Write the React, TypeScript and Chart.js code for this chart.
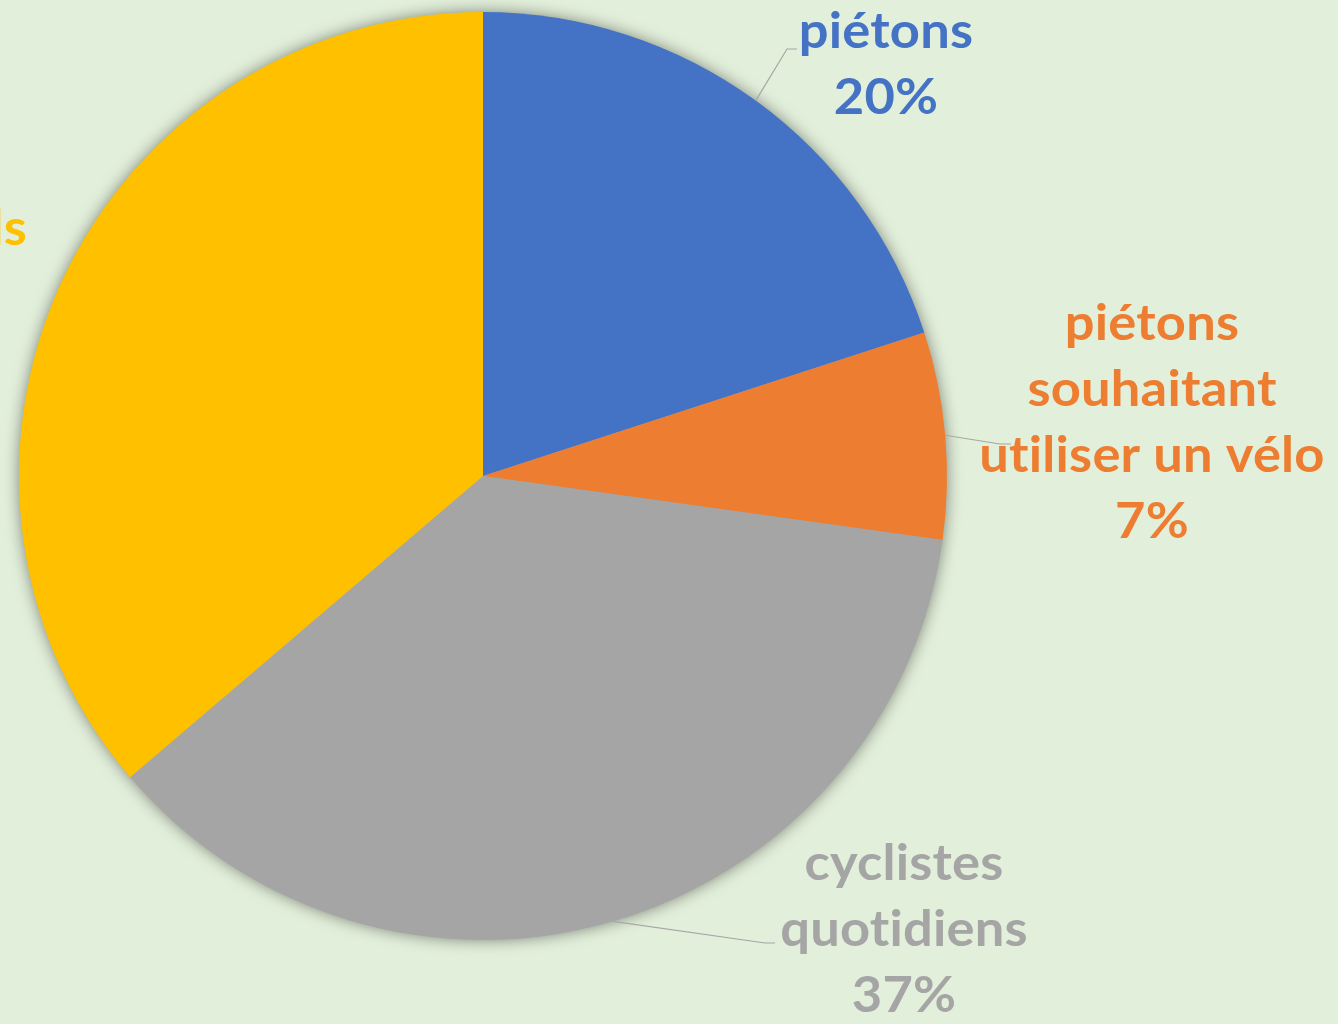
import React, { useEffect, useRef } from "react";
import { Chart, registerables } from "chart.js";

Chart.register(...registerables);

const categories = [
  "piétons",
  "piétons souhaitant utiliser un vélo",
  "cyclistes quotidiens",
  "cyclistes occasionnels",
];
const labelLines = [
  ["piétons"],
  ["piétons", "souhaitant", "utiliser un vélo"],
  ["cyclistes", "quotidiens"],
  ["cyclistes", "occasionnels"],
];
const values = [20.0, 7.2, 36.55, 36.25];
const colors = ["#4472C4", "#ED7D31", "#A5A5A5", "#FFC000"];

const BG = "#E2EFDA";
const FONT_SIZE = 49;
const FONT = `bold ${FONT_SIZE}px Lato, "Open Sans", sans-serif`;
const LINE_H = 66;
const TEXT_SX = 1.07;

// label layout relative to pie centre (pixels); "right" aligns the widest line's right edge
const layout: any[] = [
  { cx: 403, base: -428, elbow: [304, -427], end: [314, -427], leader: true },
  { cx: 669, base: -136, elbow: [517, -32], end: [528, -32], leader: true },
  { cx: 421, base: 404, elbow: [282, 467], end: [292, 467], leader: true },
  { right: -456, base: -297, leader: false },
];

const shadowPlugin = {
  id: "pieShadow",
  beforeDatasetsDraw(chart: any) {
    const arc = chart.getDatasetMeta(0).data[0];
    if (!arc) return;
    const { x, y, outerRadius } = arc.getProps(["x", "y", "outerRadius"], true);
    const ctx = chart.ctx;
    ctx.save();
    ctx.shadowColor = "rgba(0,0,0,0.5)";
    ctx.shadowBlur = 16;
    ctx.shadowOffsetX = 0;
    ctx.shadowOffsetY = 0;
    ctx.fillStyle = "#A5A5A5";
    ctx.beginPath();
    ctx.arc(x, y, outerRadius - 1, 0, Math.PI * 2);
    ctx.fill();
    ctx.restore();
  },
};

const labelPlugin = {
  id: "outLabels",
  afterDatasetsDraw(chart: any) {
    const ctx = chart.ctx;
    const meta = chart.getDatasetMeta(0);
    const data = chart.data.datasets[0].data as number[];
    const total = data.reduce((a, b) => a + b, 0);
    meta.data.forEach((arc: any, i: number) => {
      const p = arc.getProps(["x", "y", "startAngle", "endAngle", "outerRadius"], true);
      const mid = (p.startAngle + p.endAngle) / 2;
      const L = layout[i];
      ctx.save();
      if (L.leader) {
        const sx = p.x + Math.cos(mid) * p.outerRadius;
        const sy = p.y + Math.sin(mid) * p.outerRadius;
        ctx.strokeStyle = "#A6A6A6";
        ctx.lineWidth = 1.2;
        ctx.beginPath();
        ctx.moveTo(sx, sy);
        ctx.lineTo(p.x + L.elbow[0], p.y + L.elbow[1]);
        ctx.lineTo(p.x + L.end[0], p.y + L.end[1]);
        ctx.stroke();
      }
      const lines = [...labelLines[i], Math.round((data[i] / total) * 100) + "%"];
      ctx.font = FONT;
      (ctx as any).letterSpacing = "0.2px";
      (ctx as any).textRendering = "optimizeSpeed";
      ctx.fillStyle = colors[i];
      ctx.textAlign = "center";
      ctx.textBaseline = "alphabetic";
      let cx = L.cx;
      if (L.right !== undefined) {
        const w = Math.max(...lines.map((t) => ctx.measureText(t).width)) * TEXT_SX;
        cx = L.right - w / 2;
      }
      lines.forEach((t, k) => {
        ctx.save();
        ctx.translate(p.x + cx, p.y + L.base + k * LINE_H);
        ctx.scale(TEXT_SX, 1);
        ctx.fillText(t, 0, 0);
        ctx.restore();
      });
      ctx.restore();
    });
  },
};

export default function App() {
  const ref = useRef<HTMLCanvasElement | null>(null);
  useEffect(() => {
    document.body.style.margin = "0";
    const canvas = ref.current!;
    const chart = new Chart(canvas, {
      type: "pie",
      data: {
        labels: categories,
        datasets: [
          {
            data: values,
            backgroundColor: colors,
            borderWidth: 0,
          },
        ],
      },
      options: {
        responsive: false,
        animation: false,
        layout: { padding: { left: 19, top: 12, right: 391, bottom: 84 } },
        plugins: {
          legend: { display: false },
          tooltip: { enabled: false },
          title: { display: false },
        },
      },
      plugins: [shadowPlugin, labelPlugin],
    });
    return () => chart.destroy();
  }, []);
  return (
    <div style={{ position: "fixed", left: 0, top: 0, width: 1338, height: 1024, background: BG }}>
      <canvas ref={ref} width={1338} height={1024} />
    </div>
  );
}
